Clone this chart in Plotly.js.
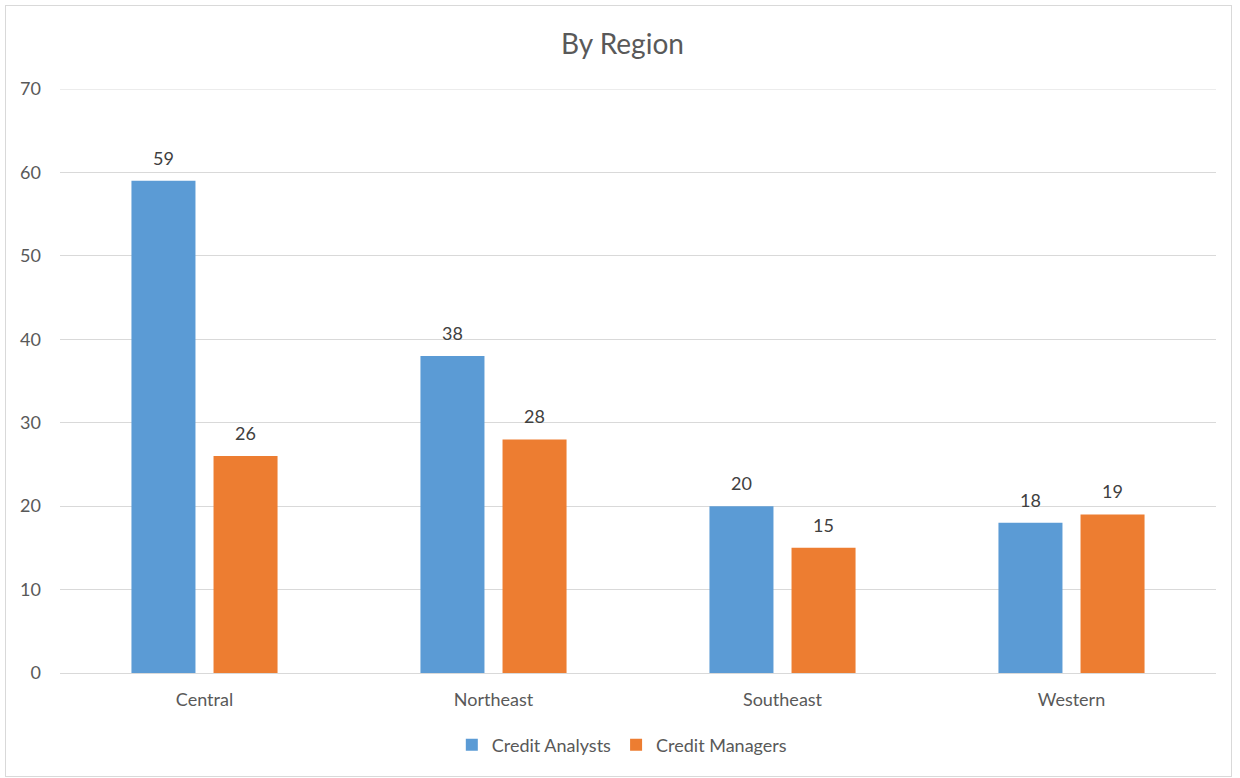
<!DOCTYPE html>
<html>
<head>
<meta charset="utf-8">
<script src="https://cdn.plot.ly/plotly-3.0.1.min.js"></script>
<style>
html,body{margin:0;padding:0;background:#fff;}
#frame{position:absolute;left:5px;top:5px;width:1227px;height:772px;border:1px solid #d9d9d9;box-sizing:border-box;}
#chart{position:absolute;left:0;top:0;width:1240px;height:778px;}
</style>
</head>
<body>
<div id="chart"></div>
<div id="frame"></div>
<script>
const categories = ["Central", "Northeast", "Southeast", "Western"];
const creditAnalysts = [59, 38, 20, 18];
const creditManagers = [26, 28, 15, 19];
const seriesNames = ["Credit Analysts", "Credit Managers"];
const yTicks = [0, 10, 20, 30, 40, 50, 60, 70];

const font = "Lato, 'Open Sans', sans-serif";
const traces = [
  {type: "bar", name: seriesNames[0], x: categories, y: creditAnalysts,
   marker: {color: "#5B9BD5"}, hoverinfo: "x+y"},
  {type: "bar", name: seriesNames[1], x: categories, y: creditManagers,
   marker: {color: "#ED7D31"}, hoverinfo: "x+y"}
];
const annotations = [];
[creditAnalysts, creditManagers].forEach((vals, si) => {
  vals.forEach((v, i) => {
    annotations.push({x: categories[i], y: v, xref: "x", yref: "y", text: String(v),
      showarrow: false, xshift: si === 0 ? -41 : 41, yshift: 23, yanchor: "middle",
      font: {size: 18, color: "#404040", family: font}});
  });
});
const yMax = yTicks[yTicks.length - 1];
const layout = {
  width: 1240, height: 778,
  margin: {l: 60, r: 24, t: 89, b: 105},
  paper_bgcolor: "#fff", plot_bgcolor: "#fff",
  font: {family: font, size: 18, color: "#595959"},
  title: {text: "By Region", font: {size: 28, color: "#595959", family: font},
          x: 0.502, xanchor: "center", xref: "container", y: 1 - 44/778, yanchor: "middle", yref: "container"},
  barmode: "group", bargap: 0.432, bargroupgap: 0.22,
  xaxis: {type: "category", showline: true, linecolor: "#d9d9d9", linewidth: 1, ticks: "",
          tickfont: {size: 18, color: "#595959"}, ticklabelstandoff: 10, showgrid: false},
  yaxis: {range: [0, yMax], tickvals: yTicks, showgrid: true, gridcolor: "#d9d9d9", gridwidth: 1,
          zeroline: true, zerolinecolor: "#d9d9d9", showline: false, ticks: "",
          tickfont: {size: 18, color: "#595959"}, ticklabelstandoff: 18},
  shapes: [{type: "line", xref: "paper", x0: 0, x1: 1, yref: "y", y0: yMax, y1: yMax,
            line: {color: "#d9d9d9", width: 1}, layer: "below"}],
  annotations: annotations,
  showlegend: true,
  legend: {orientation: "h", x: 0.486, xanchor: "center", y: -72/584, yanchor: "middle",
           font: {size: 18, color: "#595959"}, itemwidth: 30, traceorder: "normal"}
};
Plotly.newPlot("chart", traces, layout, {displayModeBar: false, staticPlot: true});
</script>
</body>
</html>
